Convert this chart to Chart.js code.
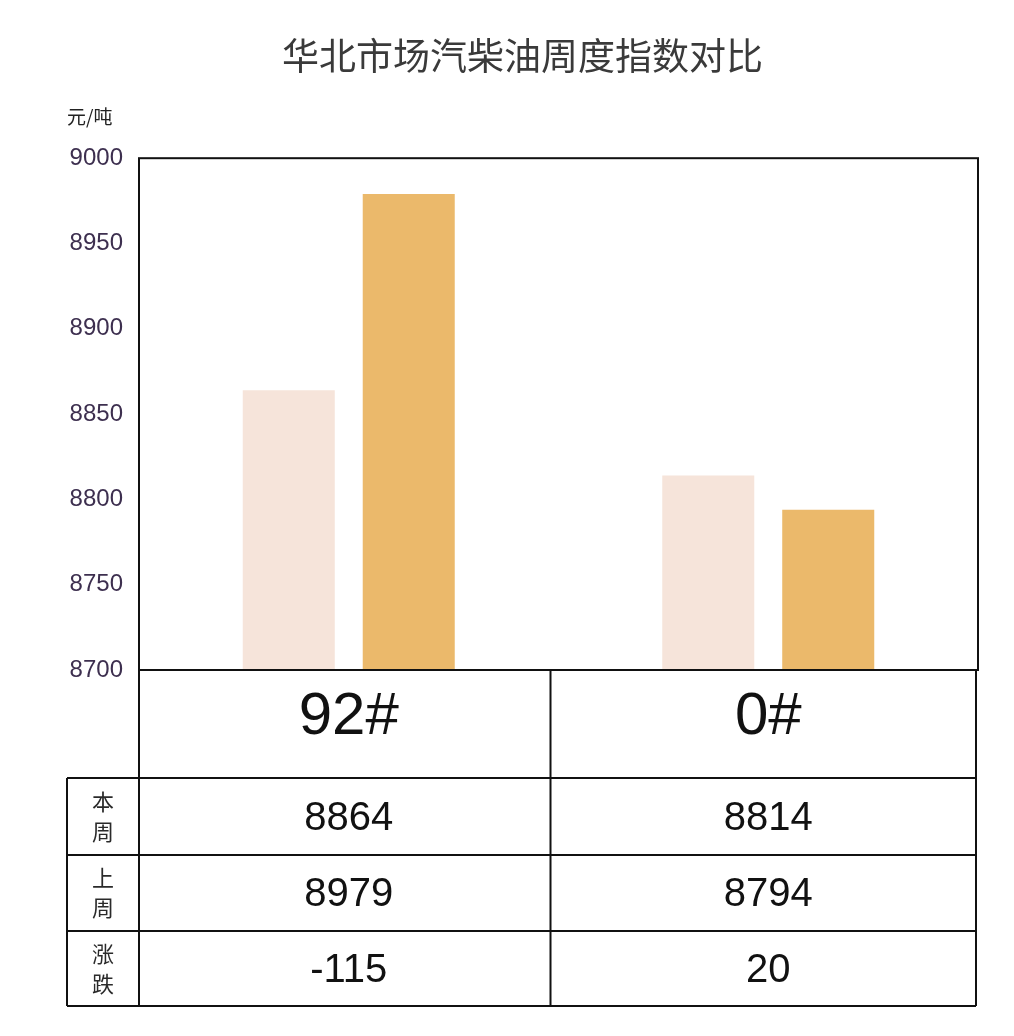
<!DOCTYPE html>
<html>
<head>
<meta charset="utf-8">
<title>华北市场汽柴油周度指数对比</title>
<script src="https://cdn.jsdelivr.net/npm/chart.js@4/dist/chart.umd.min.js"></script>
<style>
  html, body { margin: 0; padding: 0; background: #fff; }
  #wrap { width: 1014px; height: 1036px; }
</style>
</head>
<body>
<div id="wrap"><canvas id="oilChart" width="1014" height="1036"></canvas></div>
<script>
// ==================== DATA ====================
const categories = ['92#', '0#'];
const thisWeek = [8864, 8814];   // 本周
const lastWeek = [8979, 8794];   // 上周
const change = [-115, 20];       // 涨跌
const rowLabels = ['本周', '上周', '涨跌'];
const yMin = 8700, yMax = 9000, yStep = 50;

const latinFont = "'Liberation Sans', Arial, sans-serif";
const cjkFont = "'Noto Sans CJK SC', 'Liberation Sans', sans-serif";

// table rows under the x axis (row heights in px)
const rowHeights = [77, 76, 75];
const labelColLeft = 67;

// Plot frame + value table drawn below the category axis
const tablePlugin = {
  id: 'frameTable',
  afterDraw(chart) {
    const { ctx, chartArea: a, scales: { x } } = chart;
    const axisBottom = x.bottom;
    const mid = (x.getPixelForValue(0) + x.getPixelForValue(1)) / 2 - 8;
    const tableBottom = axisBottom + rowHeights.reduce((s, h) => s + h, 0);

    ctx.save();
    ctx.strokeStyle = '#111';
    ctx.lineWidth = 2;

    // plot frame
    ctx.strokeRect(a.left, a.top, a.right - a.left, a.bottom - a.top);

    // verticals
    ctx.beginPath();
    ctx.moveTo(a.left, a.bottom); ctx.lineTo(a.left, tableBottom);
    ctx.moveTo(mid, a.bottom); ctx.lineTo(mid, tableBottom);
    ctx.moveTo(a.right - 2, a.bottom); ctx.lineTo(a.right - 2, tableBottom);
    ctx.moveTo(labelColLeft, axisBottom); ctx.lineTo(labelColLeft, tableBottom);
    ctx.stroke();

    // horizontals
    ctx.beginPath();
    ctx.moveTo(a.left, axisBottom); ctx.lineTo(a.right - 2, axisBottom);
    let yy = axisBottom;
    rowHeights.forEach(h => {
      yy += h;
      ctx.moveTo(labelColLeft, yy); ctx.lineTo(a.right - 2, yy);
    });
    ctx.moveTo(labelColLeft, axisBottom); ctx.lineTo(a.left, axisBottom);
    ctx.stroke();

    // cell texts
    const rows = [thisWeek, lastWeek, change];
    ctx.textAlign = 'center';
    ctx.textBaseline = 'middle';
    let top = axisBottom;
    rows.forEach((vals, r) => {
      const cy = top + rowHeights[r] / 2;
      // stacked row label
      ctx.fillStyle = '#2a2a2a';
      ctx.font = `22px ${cjkFont}`;
      const chars = rowLabels[r].split('');
      chars.forEach((c, i) => {
        ctx.fillText(c, (labelColLeft + a.left) / 2, cy + (i - (chars.length - 1) / 2) * 30);
      });
      // values
      ctx.fillStyle = '#111';
      ctx.font = `40px ${latinFont}`;
      vals.forEach((v, i) => {
        ctx.fillText(String(v), x.getPixelForValue(i), cy + 2);
      });
      top += rowHeights[r];
    });
    ctx.restore();
  }
};

const ctx = document.getElementById('oilChart').getContext('2d');
new Chart(ctx, {
  type: 'bar',
  data: {
    labels: categories,
    datasets: [
      {
        label: '本周',
        data: thisWeek,
        backgroundColor: '#F6E4DA',
        borderWidth: 0
      },
      {
        label: '上周',
        data: lastWeek,
        backgroundColor: '#EBB96B',
        borderWidth: 0
      }
    ]
  },
  options: {
    responsive: false,
    animation: false,
    devicePixelRatio: 1,
    categoryPercentage: 0.572,
    barPercentage: 0.767,
    layout: { padding: { left: 67, right: 36, top: 0, bottom: 258 } },
    plugins: {
      legend: { display: false },
      tooltip: { enabled: false },
      title: {
        display: true,
        text: '华北市场汽柴油周度指数对比',
        color: '#3a3a3a',
        font: { family: cjkFont, size: 37, weight: 'normal' },
        padding: { top: 34, bottom: 20 }
      },
      subtitle: {
        display: true,
        text: '元/吨',
        align: 'start',
        color: '#222',
        font: { family: cjkFont, size: 19, weight: 'normal' },
        padding: { top: 7, bottom: 30 }
      }
    },
    scales: {
      x: {
        grid: { display: false, drawTicks: false },
        border: { display: false },
        ticks: {
          color: '#111',
          padding: 11,
          font: { family: latinFont, size: 60 }
        },
        afterFit: s => { s.height = 108; }
      },
      y: {
        min: yMin,
        max: yMax,
        grid: { display: false, drawTicks: false },
        border: { display: false },
        ticks: {
          stepSize: yStep,
          color: '#3d2f4f',
          padding: 16,
          font: { family: latinFont, size: 24 },
          callback: v => String(v)
        },
        afterFit: s => { s.width = 72; }
      }
    }
  },
  plugins: [tablePlugin]
});
</script>
</body>
</html>
